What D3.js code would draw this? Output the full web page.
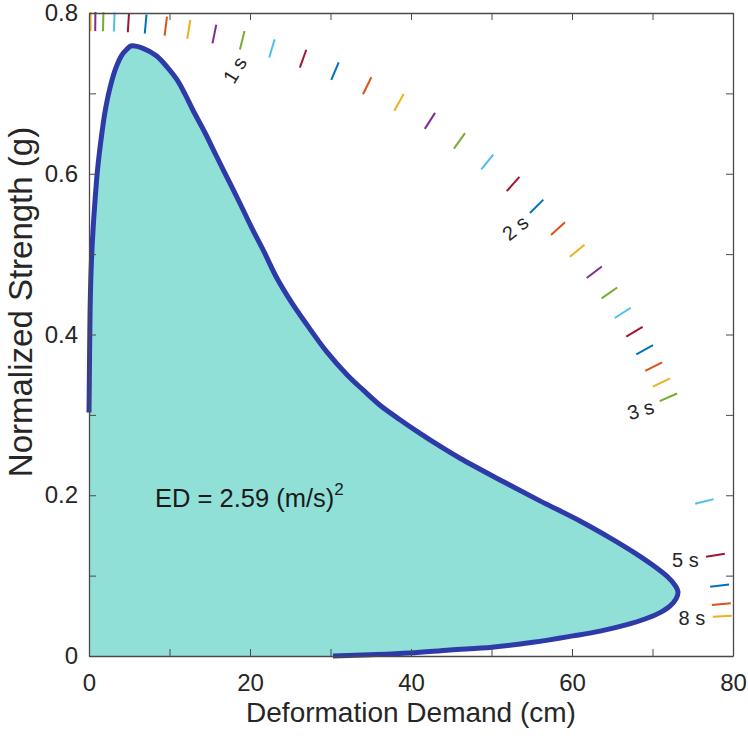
<!DOCTYPE html>
<html lang="en">
<head>
<meta charset="UTF-8">
<title>Energy Demand - Deformation vs Strength</title>
<script src="https://d3js.org/d3.v7.min.js"></script>
<style>
    body { margin: 0; background: #fff; }
    svg { display: block; font-family: "Liberation Sans", Arial, sans-serif; }
    .axis path, .axis line { stroke: #4a4a4a; }
    .axis text { fill: #262626; }
</style>
</head>
<body>
<div id="chart"></div>
<script>
    // ---- data ----
    // demand curve (cm, g), traced from (0, 0.30) up over the peak, round the nose and back to the x axis
    var deformation = [0, 0.04, 0.09, 0.16, 0.31, 0.50, 0.75, 1.06, 1.49, 1.99, 2.61, 3.35, 4.10, 4.72, 5.22,
        6.71, 8.32, 9.69, 10.93, 11.93, 12.92, 14.41, 15.78, 17.27, 18.76, 20.25, 21.74, 23.35, 25.22,
        27.08, 29.57, 32.05, 34.04, 36.15, 38.63, 41.12, 43.60, 46.09, 51.06, 56.02, 60.99, 64.72,
        67.83, 70.31, 71.93, 72.80, 73.17, 72.92, 72.17, 70.93, 69.07, 66.83, 63.48, 60.12, 55.16,
        50.06, 44.84, 39.88, 34.91, 30.31];
    var strength = [0.303, 0.343, 0.393, 0.443, 0.493, 0.530, 0.567, 0.605, 0.642, 0.677, 0.707, 0.732, 0.748, 0.755, 0.759,
        0.756, 0.747, 0.733, 0.717, 0.699, 0.679, 0.651, 0.623, 0.593, 0.563, 0.532, 0.503, 0.470, 0.439,
        0.412, 0.378, 0.350, 0.331, 0.312, 0.294, 0.277, 0.261, 0.246, 0.219, 0.193, 0.168, 0.147,
        0.128, 0.111, 0.098, 0.088, 0.080, 0.071, 0.062, 0.054, 0.046, 0.039, 0.031, 0.025, 0.017,
        0.011, 0.0075, 0.0037, 0.0015, 0.0];

    // constant-period marks (s)
    var shortPeriods = [0.1, 0.2, 0.3, 0.4, 0.5, 0.6, 0.7, 0.8, 0.9, 1.0, 1.1, 1.2, 1.3, 1.4, 1.5,
        1.6, 1.7, 1.8, 1.9, 2.0, 2.1, 2.2, 2.3, 2.4, 2.5, 2.6, 2.7, 2.8, 2.9];
    var longPeriods = [3, 4, 5, 6, 7, 8];
    var labelPeriods = [1, 2, 3, 5, 8];
    var labelTexts = ['1 s', '2 s', '3 s', '5 s', '8 s'];

    var xTicks = [0, 10, 20, 30, 40, 50, 60, 70, 80];
    var yTicks = [0, 0.1, 0.2, 0.3, 0.4, 0.5, 0.6, 0.7, 0.8];

    var edText = 'ED = 2.59 (m/s)';

    // ---- layout ----
    var w = 748, h = 738;
    var m = {top: 13, left: 89, right: 15, bottom: 82};
    var innerW = w - m.left - m.right;
    var innerH = h - m.top - m.bottom;

    var matlabColors = ['#0072BD', '#D95319', '#EDB120', '#7E2F8E', '#77AC30', '#4DBEEE', '#A2142F'];
    var labelAngles = [-59, -39, -16, 0, 0];

    var xScale = d3.scaleLinear().domain([0, 80]).range([0, innerW]);
    var yScale = d3.scaleLinear().domain([0, 0.8]).range([innerH, 0]);

    var svg = d3.select('#chart').append('svg')
        .attr('width', w)
        .attr('height', h);

    svg.append('defs').append('clipPath').attr('id', 'plotclip')
        .append('rect').attr('x', 0).attr('y', -1).attr('width', innerW + 1).attr('height', innerH + 1);

    var g = svg.append('g').attr('transform', 'translate(' + m.left + ',' + m.top + ')');

    var pts = deformation.map(function(d, i){ return [d, strength[i]]; });

    var curveLine = d3.line()
        .x(function(d){ return xScale(d[0]); })
        .y(function(d){ return yScale(d[1]); })
        .curve(d3.curveCatmullRom.alpha(0.5));
    var curvePath = curveLine(pts);

    // filled area: curve, then straight back along the axes through the origin
    g.append('path')
        .attr('d', curvePath + 'L' + xScale(0) + ',' + yScale(0) + 'Z')
        .attr('fill', '#90E0D8')
        .attr('stroke', 'none');

    // demand curve outline
    g.append('path')
        .attr('d', curvePath)
        .attr('fill', 'none')
        .attr('stroke', '#2E3AA8')
        .attr('stroke-width', 5)
        .attr('stroke-linecap', 'butt')
        .attr('stroke-linejoin', 'round');

    // constant-period radial marks, direction from Sa = (2pi/T)^2 * Sd / g
    function periodDir(T){
        var k = 4 * Math.PI * Math.PI / (T * T * 981); // g per cm
        var dx = xScale(1) - xScale(0);
        var dy = yScale(k) - yScale(0);
        var len = Math.sqrt(dx * dx + dy * dy);
        return [dx / len, dy / len];
    }
    var ox = xScale(0), oy = yScale(0);
    var r0 = 625, r1 = 644, rLabel = 604;

    var marks = shortPeriods.map(function(T, i){ return {T: T, c: matlabColors[(i + 2) % 7]}; })
        .concat(longPeriods.map(function(T, i){ return {T: T, c: matlabColors[(i + 4) % 7]}; }));

    g.append('g').attr('clip-path', 'url(#plotclip)')
        .selectAll('line').data(marks).enter().append('line')
        .attr('x1', function(d){ return ox + r0 * periodDir(d.T)[0]; })
        .attr('y1', function(d){ return oy + r0 * periodDir(d.T)[1]; })
        .attr('x2', function(d){ return ox + r1 * periodDir(d.T)[0]; })
        .attr('y2', function(d){ return oy + r1 * periodDir(d.T)[1]; })
        .attr('stroke', function(d){ return d.c; })
        .attr('stroke-width', 2);

    g.append('g').selectAll('text').data(labelPeriods).enter().append('text')
        .attr('transform', function(T, i){
            var u = periodDir(T);
            return 'translate(' + (ox + rLabel * u[0]) + ',' + (oy + rLabel * u[1]) + ') rotate(' + labelAngles[i] + ')';
        })
        .attr('text-anchor', 'middle')
        .attr('dy', '0.35em')
        .attr('font-size', '20px')
        .attr('fill', '#262626')
        .text(function(T, i){ return labelTexts[i]; });

    // ED annotation
    var ed = g.append('text')
        .attr('x', xScale(8.2))
        .attr('y', yScale(0.185))
        .attr('font-size', '25.5px')
        .attr('fill', '#1a1a1a')
        .text(edText);
    ed.append('tspan')
        .attr('dy', -12)
        .attr('font-size', '17px')
        .text('2');

    // axes (MATLAB style box, ticks inside)
    var fmtX = function(d){ return d % 20 === 0 ? d : ''; };
    var fmtY = function(d){ return Math.round(d * 10) % 2 === 0 ? d3.format('~g')(d) : ''; };

    g.append('g').attr('class', 'axis')
        .attr('transform', 'translate(0,' + innerH + ')')
        .call(d3.axisBottom(xScale).tickValues(xTicks).tickSizeInner(-7).tickSizeOuter(0).tickPadding(18).tickFormat(fmtX))
        .attr('font-size', '24px');
    g.append('g').attr('class', 'axis')
        .call(d3.axisLeft(yScale).tickValues(yTicks).tickSizeInner(-7).tickSizeOuter(0).tickPadding(11).tickFormat(fmtY))
        .attr('font-size', '24px');
    g.append('g').attr('class', 'axis')
        .call(d3.axisTop(xScale).tickValues(xTicks).tickSizeInner(-7).tickSizeOuter(0).tickFormat(''));
    g.append('g').attr('class', 'axis')
        .attr('transform', 'translate(' + innerW + ',0)')
        .call(d3.axisRight(yScale).tickValues(yTicks).tickSizeInner(-7).tickSizeOuter(0).tickFormat(''));

    g.selectAll('.axis .domain').attr('stroke-width', 1.3);

    // axis titles
    svg.append('text')
        .attr('x', m.left + innerW / 2)
        .attr('y', 722)
        .attr('text-anchor', 'middle')
        .attr('font-size', '28px')
        .attr('fill', '#262626')
        .text('Deformation Demand (cm)');

    svg.append('text')
        .attr('transform', 'translate(32,302) rotate(-90)')
        .attr('text-anchor', 'middle')
        .attr('font-size', '33px')
        .attr('fill', '#262626')
        .text('Normalized Strength (g)');
</script>
</body>
</html>
